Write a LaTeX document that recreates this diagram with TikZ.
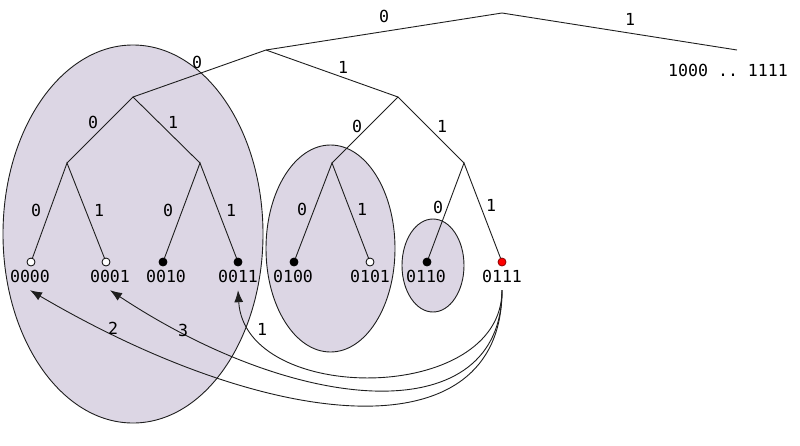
\documentclass[tikz,border=0pt]{standalone}
\usepackage{fontspec}
\setmonofont{DejaVu Sans Mono}
\usetikzlibrary{arrows.meta}
\definecolor{blobfill}{RGB}{220,214,228}
\definecolor{linec}{RGB}{30,30,30}
\begin{document}
\begin{tikzpicture}[x=1pt,y=-1pt,
 blob/.style={draw=linec, line width=0.9pt, fill=blobfill},
 branch/.style={draw=linec, line width=0.9pt},
 lbl/.style={font=\fontsize{16.6}{20}\selectfont\ttfamily, inner sep=0pt, text height=12pt, text depth=0pt, anchor=center},
 leaftxt/.style={lbl, inner ysep=8pt},
 dot/.style={circle, draw=black, line width=0.8pt, inner sep=0pt, minimum size=8pt},
 opendot/.style={dot, fill=white},
 fulldot/.style={dot, fill=black},
 reddot/.style={dot, fill=red, draw=red!55!black},
 jump/.style={draw=linec, line width=0.9pt, -{Latex[length=12pt,width=9pt]}}]
\useasboundingbox (0,0) rectangle (800,445);
% groups
\draw[blob] (133,234) ellipse [x radius=130, y radius=189];
\draw[blob] (330.5,248.5) ellipse [x radius=64.5, y radius=103.5];
\draw[blob] (433,265.5) ellipse [x radius=31, y radius=46.5];
% inner points
\coordinate (r) at (502,13);
\coordinate (n0) at (266,50);
\coordinate (n1) at (737,50);
\coordinate (n00) at (133,97);
\coordinate (n01) at (398,97);
\coordinate (n000) at (67,163);
\coordinate (n001) at (200,163);
\coordinate (n010) at (332,163);
\coordinate (n011) at (464,163);
% leaves
\node[opendot] (l0000) at (31,262) {};
\node[opendot] (l0001) at (106,262) {};
\node[fulldot] (l0010) at (163,262) {};
\node[fulldot] (l0011) at (238,262) {};
\node[fulldot] (l0100) at (294,262) {};
\node[opendot] (l0101) at (370,262) {};
\node[fulldot] (l0110) at (427,262) {};
\node[reddot] (l0111) at (502,262) {};
% branches
\draw[branch] (n0) -- (r) -- (n1);
\draw[branch] (n00) -- (n0) -- (n01);
\draw[branch] (n000) -- (n00) -- (n001);
\draw[branch] (n010) -- (n01) -- (n011);
\draw[branch] (l0000) -- (n000) -- (l0001);
\draw[branch] (l0010) -- (n001) -- (l0011);
\draw[branch] (l0100) -- (n010) -- (l0101);
\draw[branch] (l0110) -- (n011) -- (l0111);
% leaf texts
\node[leaftxt] (t0000) at (30,276) {0000};
\node[leaftxt] (t0001) at (110,276) {0001};
\node[leaftxt] (t0010) at (166,276) {0010};
\node[leaftxt] (t0011) at (238,276) {0011};
\node[leaftxt] (t0100) at (293,276) {0100};
\node[leaftxt] (t0101) at (370,276) {0101};
\node[leaftxt] (t0110) at (426,276) {0110};
\node[leaftxt] (t0111) at (502,276) {0111};
\node[lbl] (trest) at (728,70) {1000 .. 1111};
% branch labels
\node[lbl] (b0) at (384,16) {0};
\node[lbl] (b1) at (630,19) {1};
\node[lbl] (b00) at (197,62) {0};
\node[lbl] (b01) at (343,67) {1};
\node[lbl] (b000) at (93,122) {0};
\node[lbl] (b001) at (173,122) {1};
\node[lbl] (b010) at (357,126) {0};
\node[lbl] (b011) at (442,126) {1};
\node[lbl] (b0000) at (36,210) {0};
\node[lbl] (b0001) at (99,210) {1};
\node[lbl] (b0010) at (168,210) {0};
\node[lbl] (b0011) at (231,210) {1};
\node[lbl] (b0100) at (302,209) {0};
\node[lbl] (b0101) at (362,209) {1};
\node[lbl] (b0110) at (438,207) {0};
\node[lbl] (b0111) at (491,205) {1};
% jumps
\draw[jump] (t0111.south) .. controls +(0,115) and +(7,115) .. (t0011.south);
\draw[jump] (t0111.south) .. controls +(0,140) and +(192,127) .. (t0001.south);
\draw[jump] (t0111.south) .. controls +(0,165) and +(242,142) .. (t0000.south);
\node[lbl] (j2) at (113,328) {2};
\node[lbl] (j3) at (183,330) {3};
\node[lbl] (j1) at (262,329) {1};
\end{tikzpicture}
\end{document}
